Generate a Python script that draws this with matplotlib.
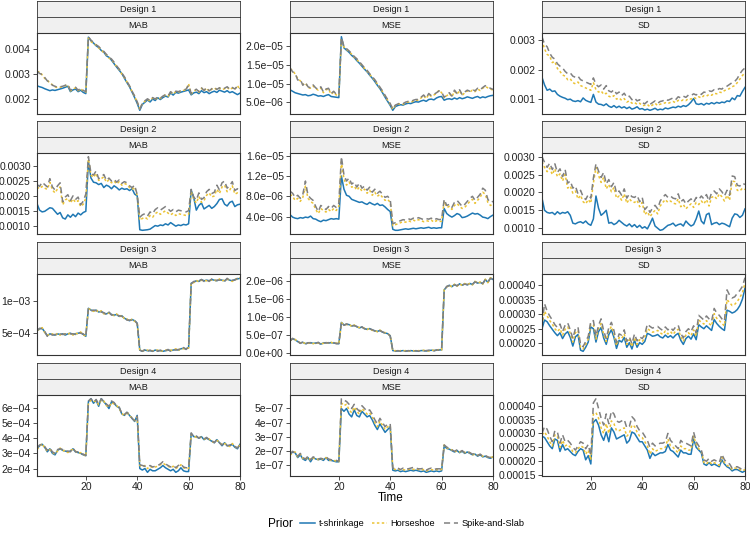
import numpy as np
import matplotlib
matplotlib.use('Agg')
import matplotlib.pyplot as plt
from matplotlib.lines import Line2D

plt.rcParams.update({
    'font.family':      ['Liberation Sans', 'DejaVu Sans'],
    'font.size':        7.5,
    'figure.facecolor': 'white',
    'axes.facecolor':   'white',
    'figure.dpi':       100,
})

# ---- data -------------------------------------------------------------
time = np.arange(1, 81)
priors = ['t-shrinkage', 'Horseshoe', 'Spike-and-Slab']
designs = ['Design 1', 'Design 2', 'Design 3', 'Design 4']
metrics = ['MAB', 'MSE', 'SD']

# Design 1 - MAB (x 1e-4)
d1_mab_t = [25.2, 24.8, 24.5, 24.0, 23.6, 23.2, 23.5, 23.3, 23.6, 23.9,
            24.2, 24.6, 25.0, 22.8, 23.5, 23.9, 22.8, 23.4, 22.5, 22.0,
            45.0, 43.5, 42.6, 41.5, 40.8, 39.6, 38.9, 37.4, 36.8, 35.6,
            34.2, 32.8, 31.5, 30.2, 28.3, 26.5, 24.8, 22.6, 20.4, 18.0,
            15.2, 17.6, 18.5, 19.4, 18.6, 19.8, 19.2, 20.3, 19.6, 20.4,
            21.0, 20.6, 22.3, 21.4, 22.5, 22.2, 22.6, 22.9, 23.2, 23.5,
            21.5, 22.3, 22.6, 22.0, 23.2, 22.4, 22.8, 22.0, 22.6, 23.0,
            22.5, 23.4, 23.0, 22.6, 23.2, 22.4, 22.8, 22.2, 21.6, 22.2]
d1_mab_h = [30.8, 31.0, 29.6, 28.2, 27.5, 26.3, 25.6, 24.8, 24.4, 24.6,
            24.8, 25.2, 25.6, 23.1, 23.8, 24.4, 23.2, 24.0, 23.0, 22.6,
            44.6, 43.2, 42.4, 41.8, 40.6, 39.9, 38.6, 37.8, 36.5, 35.9,
            34.5, 33.0, 31.8, 30.0, 28.6, 26.8, 25.0, 22.8, 20.8, 18.5,
            15.8, 17.9, 18.9, 19.6, 19.0, 20.2, 19.6, 20.5, 20.0, 20.8,
            21.4, 20.9, 22.6, 21.8, 22.8, 22.6, 23.0, 23.3, 23.6, 26.0,
            21.9, 23.0, 23.6, 22.6, 24.2, 23.1, 24.3, 22.9, 23.8, 24.4,
            23.5, 24.2, 23.6, 24.0, 24.6, 23.6, 24.3, 23.7, 25.3, 23.6]
d1_mab_s = [31.2, 30.2, 29.8, 28.6, 27.2, 26.6, 25.4, 25.0, 24.6, 24.8,
            25.0, 25.4, 25.8, 23.4, 24.0, 24.6, 23.4, 24.2, 23.3, 22.8,
            45.2, 43.8, 42.9, 41.9, 41.2, 40.1, 39.2, 38.0, 36.9, 36.1,
            34.8, 33.3, 32.0, 30.4, 28.9, 27.0, 25.2, 23.0, 21.0, 18.7,
            15.6, 18.1, 19.1, 19.9, 19.2, 20.4, 19.8, 20.7, 20.2, 21.0,
            21.6, 21.1, 22.8, 22.0, 23.0, 22.8, 23.2, 23.5, 23.8, 25.4,
            22.1, 23.2, 23.8, 22.8, 24.4, 23.3, 24.5, 23.1, 24.0, 24.6,
            23.7, 24.4, 23.8, 24.2, 24.8, 23.8, 24.5, 23.9, 25.0, 24.0]

# Design 1 - MSE (x 1e-6)
d1_mse_t = [8.4, 8.0, 7.6, 7.4, 7.2, 7.0, 7.1, 6.8, 6.9, 7.2,
            7.0, 6.7, 6.8, 6.6, 6.9, 7.1, 6.6, 6.5, 6.4, 6.3,
            22.6, 19.6, 19.0, 18.4, 17.6, 17.0, 16.2, 15.5, 14.7, 13.9,
            13.2, 12.3, 11.5, 10.6, 9.6, 8.7, 7.6, 6.4, 5.3, 4.2,
            2.9, 3.9, 4.2, 4.4, 4.3, 4.6, 4.8, 4.7, 5.0, 5.2,
            5.1, 5.4, 5.6, 5.3, 5.8, 5.9, 5.7, 6.2, 6.5, 6.6,
            5.6, 5.9, 6.0, 5.8, 6.2, 5.9, 6.3, 6.0, 6.2, 6.5,
            6.3, 6.1, 6.4, 6.6, 6.2, 6.5, 6.3, 6.6, 6.8, 6.9]
d1_mse_h = [14.0, 13.6, 12.6, 11.4, 10.8, 9.8, 10.2, 9.0, 8.8, 9.4,
            8.7, 8.3, 8.9, 7.6, 8.4, 8.6, 7.2, 7.8, 7.0, 6.8,
            22.0, 19.8, 19.2, 18.6, 17.9, 17.1, 16.5, 15.7, 14.9, 14.1,
            13.4, 12.5, 11.7, 10.9, 9.9, 8.9, 7.9, 6.7, 5.6, 4.5,
            3.2, 4.2, 4.5, 4.7, 4.5, 4.9, 5.1, 5.0, 5.4, 5.6,
            5.6, 6.2, 6.8, 6.0, 7.2, 6.6, 7.0, 7.4, 8.3, 7.6,
            6.2, 6.8, 7.4, 6.5, 8.0, 7.2, 8.2, 6.9, 7.6, 8.1,
            7.8, 8.3, 7.9, 8.6, 8.2, 8.8, 9.3, 8.9, 8.6, 8.3]
d1_mse_s = [14.3, 13.2, 12.8, 11.0, 11.2, 9.6, 10.4, 9.2, 8.9, 9.7,
            8.9, 8.5, 9.2, 7.8, 8.6, 8.8, 7.4, 8.0, 7.2, 7.0,
            22.4, 20.0, 19.4, 18.8, 18.1, 17.3, 16.7, 15.9, 15.1, 14.3,
            13.6, 12.7, 11.9, 11.1, 10.1, 9.1, 8.1, 6.9, 5.8, 4.7,
            3.3, 4.3, 4.6, 4.9, 4.7, 5.1, 5.3, 5.2, 5.6, 5.8,
            5.8, 6.4, 7.0, 6.2, 7.4, 6.8, 7.2, 7.6, 8.1, 7.8,
            6.4, 7.0, 7.6, 6.7, 8.3, 7.4, 8.4, 7.1, 7.8, 8.3,
            8.0, 8.5, 8.1, 8.8, 8.4, 9.0, 9.5, 9.1, 8.8, 8.5]

# Design 1 - SD (x 1e-4)
d1_sd_t = [17.4, 14.8, 13.0, 13.4, 12.6, 12.8, 11.6, 11.0, 10.6, 10.3,
           9.8, 10.0, 9.4, 9.2, 9.5, 9.1, 10.4, 9.6, 9.2, 8.9,
           11.6, 9.0, 8.3, 8.2, 7.8, 8.4, 7.6, 7.2, 7.8, 7.1,
           7.6, 7.0, 7.4, 6.8, 7.3, 6.6, 6.9, 7.4, 6.6, 6.8,
           6.3, 6.6, 6.2, 6.5, 6.9, 6.3, 6.6, 6.4, 7.0, 6.7,
           7.0, 7.3, 7.1, 7.6, 7.3, 7.8, 7.5, 8.1, 9.0, 10.2,
           8.4, 8.2, 8.5, 8.0, 8.6, 8.3, 8.8, 8.4, 8.9, 8.6,
           9.0, 8.8, 9.4, 9.2, 10.4, 9.8, 11.2, 11.0, 12.6, 14.0]
d1_sd_h = [30.0, 27.0, 25.2, 24.6, 22.4, 22.8, 20.4, 19.4, 18.2, 17.8,
           16.6, 16.9, 15.6, 15.2, 15.8, 14.6, 14.2, 13.8, 13.4, 13.0,
           15.6, 13.2, 12.4, 12.8, 11.6, 12.0, 11.0, 10.6, 11.2, 10.0,
           10.4, 9.6, 10.2, 9.0, 9.4, 8.6, 8.9, 8.2, 8.6, 7.8,
           7.9, 8.2, 7.4, 8.0, 8.6, 7.8, 8.3, 8.4, 8.8, 8.5,
           8.9, 9.2, 8.8, 9.6, 9.3, 9.8, 9.5, 10.2, 10.0, 10.6,
           10.2, 10.8, 10.4, 11.2, 11.0, 11.6, 11.3, 12.0, 11.8, 12.4,
           12.2, 12.9, 13.2, 13.6, 14.2, 14.6, 15.6, 16.8, 18.0, 19.0]
d1_sd_s = [31.2, 28.6, 27.8, 25.6, 24.2, 23.6, 22.0, 21.2, 20.6, 19.4,
           18.6, 18.9, 17.8, 17.4, 17.8, 16.6, 16.2, 15.8, 15.4, 15.0,
           17.2, 15.0, 14.2, 14.8, 13.4, 14.6, 12.8, 12.4, 13.2, 11.8,
           12.4, 11.2, 12.0, 10.6, 11.0, 9.8, 10.4, 9.4, 9.8, 8.8,
           8.4, 9.2, 8.2, 8.8, 9.4, 8.6, 9.2, 9.4, 10.0, 9.6,
           10.0, 10.4, 9.8, 10.8, 10.4, 11.0, 10.6, 11.4, 11.2, 11.8,
           11.4, 12.0, 11.6, 12.4, 12.2, 12.8, 12.6, 13.2, 13.0, 13.6,
           13.4, 14.2, 14.4, 15.0, 15.6, 16.0, 17.0, 18.6, 19.8, 20.6]

# Design 2 - MAB (x 1e-4)
d2_mab_t = [17.4, 15.2, 14.6, 14.8, 15.4, 16.0, 15.8, 14.8, 13.8, 14.4,
            12.6, 12.2, 13.6, 12.8, 13.8, 13.0, 14.2, 13.6, 14.4, 14.8,
            31.6, 26.0, 24.6, 24.4, 23.8, 24.2, 22.8, 23.6, 23.2, 22.4,
            23.4, 22.8, 22.0, 22.6, 22.2, 22.4, 21.8, 22.4, 20.6, 20.0,
            8.6, 8.4, 8.5, 8.6, 8.8, 9.4, 10.0, 9.8, 10.2, 10.0,
            10.6, 10.2, 11.0, 10.4, 9.8, 10.2, 10.0, 10.4, 10.2, 10.6,
            22.0, 19.4, 15.2, 16.8, 17.6, 15.6, 16.2, 16.8, 15.8, 16.4,
            17.4, 18.8, 19.0, 17.2, 16.6, 17.8, 18.2, 16.4, 17.0, 17.2]
d2_mab_h = [23.0, 22.4, 23.2, 22.6, 22.2, 24.6, 22.0, 21.0, 22.4, 23.0,
            17.0, 18.6, 19.2, 17.6, 19.0, 17.8, 18.4, 16.4, 17.2, 19.2,
            32.4, 27.0, 26.2, 27.6, 25.2, 25.8, 26.4, 24.6, 25.4, 24.4,
            25.0, 24.0, 24.8, 23.6, 24.2, 23.8, 22.8, 22.2, 23.0, 20.0,
            11.8, 12.4, 12.8, 12.2, 13.4, 12.8, 14.0, 14.6, 13.8, 14.4,
            15.0, 14.2, 13.6, 14.2, 13.4, 14.0, 13.8, 13.6, 13.4, 13.8,
            21.6, 18.8, 17.6, 19.8, 17.8, 18.4, 20.2, 21.0, 19.6, 20.0,
            22.2, 20.8, 23.0, 23.6, 21.4, 22.0, 23.4, 20.6, 21.0, 20.6]
d2_mab_s = [23.8, 23.2, 24.6, 23.8, 23.0, 25.8, 23.0, 22.0, 23.4, 24.4,
            18.0, 19.6, 20.4, 18.4, 20.0, 18.8, 19.6, 17.0, 18.2, 20.6,
            33.2, 27.6, 27.0, 28.4, 25.8, 26.4, 27.2, 25.2, 26.0, 25.0,
            25.6, 24.6, 25.4, 24.2, 24.8, 24.4, 23.4, 22.8, 23.6, 20.4,
            12.8, 13.6, 14.0, 13.2, 14.6, 14.0, 15.4, 16.0, 15.2, 15.8,
            16.4, 15.6, 14.8, 15.4, 14.6, 15.2, 15.0, 14.8, 14.6, 15.0,
            22.2, 19.6, 18.6, 21.0, 18.8, 19.4, 21.4, 22.2, 20.8, 21.2,
            23.6, 22.0, 24.4, 25.0, 22.6, 23.4, 24.8, 21.8, 22.4, 21.6]

# Design 2 - MSE (x 1e-6)
d2_mse_t = [4.4, 3.9, 3.7, 3.6, 3.8, 3.7, 3.9, 3.8, 4.1, 3.6,
            3.5, 3.2, 3.0, 3.3, 3.2, 3.4, 3.6, 3.5, 3.6, 3.5,
            12.0, 9.4, 8.2, 8.0, 7.4, 7.2, 7.0, 6.8, 6.9, 6.6,
            6.4, 6.8, 6.5, 6.3, 6.6, 6.2, 6.3, 5.9, 5.4, 5.0,
            1.5, 1.3, 1.3, 1.4, 1.5, 1.6, 1.5, 1.6, 1.7, 1.6,
            1.7, 1.8, 1.7, 1.8, 1.9, 1.7, 1.8, 1.7, 1.8, 1.8,
            5.6, 4.6, 4.2, 3.9, 4.2, 4.6, 4.4, 3.8, 3.9, 4.1,
            4.4, 4.7, 4.5, 4.6, 4.3, 3.9, 3.8, 3.6, 4.0, 4.3]
d2_mse_h = [8.4, 8.0, 7.2, 7.6, 7.0, 7.8, 10.0, 7.6, 7.0, 6.6,
            5.4, 4.6, 5.6, 5.2, 4.9, 5.4, 5.0, 5.6, 5.2, 6.0,
            14.8, 11.4, 10.2, 10.8, 9.8, 10.0, 9.2, 9.8, 9.0, 9.4,
            8.6, 9.2, 8.2, 8.8, 8.0, 8.4, 7.8, 7.2, 7.4, 6.8,
            2.2, 2.4, 2.6, 2.8, 3.0, 2.9, 3.2, 3.0, 3.3, 3.1,
            3.4, 3.2, 3.0, 3.2, 3.1, 3.3, 2.9, 3.2, 3.0, 3.1,
            7.0, 5.8, 6.0, 5.4, 6.2, 6.6, 6.0, 5.6, 5.8, 6.4,
            7.0, 7.4, 6.6, 7.2, 7.8, 8.8, 8.4, 6.8, 6.2, 6.4]
d2_mse_s = [9.0, 8.6, 7.8, 8.2, 7.6, 8.4, 11.0, 8.2, 7.6, 7.2,
            6.0, 5.0, 6.2, 5.8, 5.4, 6.0, 5.6, 6.2, 5.8, 6.6,
            15.8, 12.2, 11.0, 11.6, 10.4, 10.8, 9.8, 10.6, 9.6, 10.0,
            9.2, 9.8, 8.8, 9.4, 8.6, 9.0, 8.4, 7.8, 8.0, 7.4,
            2.6, 2.8, 3.0, 3.2, 3.4, 3.3, 3.6, 3.4, 3.7, 3.5,
            3.8, 3.6, 3.4, 3.6, 3.5, 3.7, 3.3, 3.6, 3.4, 3.5,
            7.4, 6.2, 6.4, 5.8, 6.8, 7.2, 6.6, 6.0, 6.4, 7.0,
            7.6, 8.0, 7.2, 7.8, 8.4, 9.6, 9.2, 7.4, 6.8, 7.0]

# Design 2 - SD (x 1e-4)
d2_sd_t = [18.4, 15.0, 14.4, 14.2, 14.4, 13.8, 14.6, 14.0, 14.4, 14.2,
           14.6, 13.6, 11.4, 11.2, 11.6, 11.8, 11.4, 12.0, 11.2, 10.8,
           12.6, 19.0, 15.6, 13.6, 14.2, 15.0, 11.4, 11.6, 11.0, 11.4,
           12.2, 11.6, 11.0, 10.6, 11.2, 10.4, 11.0, 10.2, 10.8, 10.0,
           10.4, 9.8, 11.2, 12.8, 10.6, 10.0, 9.4, 9.6, 10.2, 10.8,
           11.0, 11.4, 10.6, 11.0, 11.2, 10.6, 12.0, 11.2, 10.6, 11.0,
           12.6, 14.8, 12.0, 11.2, 13.8, 14.2, 11.0, 11.4, 11.6, 11.0,
           11.4, 11.2, 10.8, 10.4, 12.8, 14.0, 13.8, 13.0, 13.6, 15.4]
d2_sd_h = [28.6, 27.0, 25.8, 26.8, 25.0, 26.6, 24.4, 25.2, 23.2, 25.0,
           21.2, 21.8, 19.8, 20.4, 18.2, 19.2, 17.4, 16.8, 18.0, 17.0,
           22.6, 27.0, 24.8, 22.8, 24.2, 21.0, 22.2, 20.2, 21.4, 18.4,
           19.0, 17.8, 19.6, 17.0, 18.2, 17.4, 17.2, 17.8, 16.0, 17.2,
           13.8, 14.6, 13.2, 14.2, 15.0, 14.0, 16.2, 17.2, 18.0, 17.2,
           17.6, 17.0, 16.8, 18.2, 16.0, 16.6, 15.4, 16.2, 16.8, 15.8,
           17.2, 16.6, 17.6, 16.8, 18.0, 16.2, 18.6, 19.0, 18.2, 19.6,
           18.8, 17.6, 19.2, 17.8, 23.2, 23.0, 20.6, 20.4, 21.2, 20.8]
d2_sd_s = [30.0, 28.4, 27.0, 28.2, 26.4, 28.0, 25.6, 26.6, 24.4, 26.4,
           22.6, 23.2, 21.2, 21.8, 19.6, 20.6, 18.8, 18.0, 19.4, 18.4,
           24.0, 28.0, 26.0, 24.2, 25.6, 22.4, 23.6, 21.6, 22.8, 19.8,
           20.4, 19.2, 21.0, 18.4, 19.6, 18.8, 18.6, 19.2, 17.4, 18.6,
           15.2, 16.0, 14.4, 15.6, 16.4, 15.4, 17.6, 18.6, 19.4, 18.6,
           19.0, 18.4, 18.2, 19.6, 17.4, 18.0, 16.8, 17.6, 18.2, 17.2,
           18.6, 18.0, 19.0, 18.2, 19.4, 17.6, 20.0, 20.4, 19.6, 21.0,
           20.2, 19.0, 20.6, 19.2, 24.6, 24.4, 22.0, 21.8, 22.6, 22.2]

# Design 3 - MAB (x 1e-4)
d3_mab_t = [5.3, 5.6, 5.7, 5.1, 4.5, 4.8, 4.7, 4.6, 4.8, 4.7,
            4.8, 4.6, 4.8, 4.9, 4.7, 4.8, 4.9, 5.0, 4.7, 4.4,
            8.9, 8.6, 8.5, 8.6, 8.3, 8.4, 8.1, 8.0, 8.2, 7.9,
            7.8, 7.9, 7.6, 7.7, 7.3, 7.1, 6.9, 7.1, 6.9, 6.5,
            2.2, 2.0, 2.2, 2.1, 2.1, 2.0, 2.2, 2.1, 2.1, 2.0,
            2.1, 2.2, 2.1, 2.2, 2.3, 2.2, 2.4, 2.5, 2.4, 2.6,
            12.9, 13.1, 13.3, 13.2, 13.5, 13.3, 13.4, 13.3, 13.5, 13.4,
            13.3, 13.5, 13.4, 13.3, 13.6, 13.4, 13.3, 13.5, 13.6, 13.7]
d3_mab_h = [5.4, 5.5, 5.8, 5.0, 4.6, 4.7, 4.8, 4.5, 4.9, 4.6,
            4.9, 4.7, 4.7, 5.0, 4.6, 4.9, 4.8, 5.1, 4.6, 4.5,
            8.8, 8.7, 8.4, 8.7, 8.2, 8.5, 8.0, 8.1, 8.1, 8.0,
            7.7, 8.0, 7.5, 7.8, 7.2, 7.2, 6.8, 7.2, 6.8, 6.6,
            2.1, 2.1, 2.1, 2.2, 2.0, 2.1, 2.1, 2.2, 2.0, 2.1,
            2.2, 2.1, 2.2, 2.1, 2.4, 2.1, 2.5, 2.4, 2.5, 2.5,
            13.0, 13.0, 13.4, 13.1, 13.4, 13.4, 13.3, 13.4, 13.4, 13.5,
            13.2, 13.6, 13.3, 13.4, 13.5, 13.5, 13.2, 13.6, 13.5, 13.8]
d3_mab_s = [5.3, 5.7, 5.6, 5.2, 4.4, 4.8, 4.6, 4.7, 4.7, 4.8,
            4.7, 4.8, 4.7, 4.8, 4.8, 4.7, 5.0, 4.9, 4.8, 4.4,
            8.9, 8.5, 8.6, 8.5, 8.4, 8.3, 8.2, 7.9, 8.3, 7.8,
            7.9, 7.8, 7.7, 7.6, 7.4, 7.0, 7.0, 7.0, 7.0, 6.4,
            2.2, 2.0, 2.3, 2.0, 2.2, 2.0, 2.3, 2.0, 2.2, 2.0,
            2.1, 2.3, 2.0, 2.3, 2.2, 2.3, 2.3, 2.6, 2.3, 2.7,
            12.8, 13.2, 13.2, 13.3, 13.5, 13.2, 13.5, 13.2, 13.6, 13.3,
            13.4, 13.4, 13.5, 13.2, 13.7, 13.3, 13.4, 13.4, 13.7, 13.6]

# Design 3 - MSE (x 1e-7)
d3_mse_t = [3.4, 4.0, 3.7, 3.2, 2.8, 3.0, 2.6, 2.8, 2.9, 2.7,
            2.8, 2.9, 2.5, 2.8, 2.9, 2.8, 2.9, 2.8, 2.7, 2.6,
            8.5, 7.8, 8.0, 7.9, 7.5, 7.7, 7.3, 7.0, 7.2, 6.8,
            6.6, 6.8, 6.4, 6.2, 6.0, 6.3, 5.8, 5.6, 5.4, 4.8,
            0.7, 0.6, 0.6, 0.6, 0.7, 0.6, 0.6, 0.7, 0.6, 0.6,
            0.6, 0.7, 0.7, 0.6, 0.7, 0.8, 0.7, 0.8, 0.9, 0.9,
            17.5, 18.4, 18.8, 18.4, 19.0, 18.6, 19.2, 18.8, 19.2, 18.9,
            19.3, 19.0, 19.8, 19.4, 19.6, 19.2, 20.4, 19.6, 20.8, 20.4]
d3_mse_h = [3.5, 3.9, 3.8, 3.1, 2.9, 2.9, 2.7, 2.7, 3.0, 2.6,
            2.9, 2.8, 2.6, 2.7, 3.0, 2.7, 3.0, 2.7, 2.8, 2.5,
            8.4, 7.9, 7.9, 8.0, 7.4, 7.8, 7.2, 7.1, 7.1, 6.9,
            6.5, 6.9, 6.3, 6.3, 5.9, 6.4, 5.7, 5.7, 5.3, 4.9,
            0.6, 0.7, 0.5, 0.7, 0.6, 0.7, 0.5, 0.7, 0.7, 0.5,
            0.7, 0.6, 0.8, 0.6, 0.6, 0.8, 0.8, 0.7, 1.0, 0.8,
            17.6, 18.3, 18.9, 18.3, 19.1, 18.5, 19.3, 18.7, 19.3, 18.8,
            19.4, 18.9, 19.9, 19.3, 19.7, 19.1, 20.5, 19.5, 20.9, 20.3]
d3_mse_s = [3.3, 4.1, 3.6, 3.3, 2.7, 3.1, 2.5, 2.9, 2.8, 2.8,
            2.7, 3.0, 2.4, 2.9, 2.8, 2.9, 2.8, 2.9, 2.6, 2.7,
            8.6, 7.7, 8.1, 7.8, 7.6, 7.6, 7.4, 6.9, 7.3, 6.7,
            6.7, 6.7, 6.5, 6.1, 6.1, 6.2, 5.9, 5.5, 5.5, 4.7,
            0.8, 0.5, 0.7, 0.5, 0.8, 0.5, 0.7, 0.6, 0.5, 0.7,
            0.5, 0.8, 0.6, 0.7, 0.8, 0.7, 0.6, 0.9, 0.8, 1.0,
            17.4, 18.5, 18.7, 18.5, 18.9, 18.7, 19.1, 18.9, 19.1, 19.0,
            19.2, 19.1, 19.7, 19.5, 19.5, 19.3, 20.3, 19.7, 20.7, 20.5]

# Design 3 - SD (x 1e-5)
d3_sd_t = [25.0, 28.0, 27.4, 26.0, 24.8, 23.6, 22.6, 23.6, 21.6, 23.2,
           24.0, 22.0, 19.0, 22.2, 23.0, 17.6, 17.2, 18.6, 20.4, 25.6,
           25.0, 20.4, 24.0, 25.4, 21.8, 19.6, 23.0, 24.6, 22.0, 18.2,
           21.0, 20.4, 22.0, 18.6, 20.2, 18.0, 21.0, 18.6, 20.2, 19.6,
           20.6, 23.4, 23.0, 22.4, 22.6, 23.0, 22.2, 21.8, 22.8, 22.0,
           22.6, 21.8, 22.8, 23.4, 21.0, 19.6, 21.6, 22.4, 21.4, 23.2,
           21.2, 26.4, 25.6, 25.0, 26.0, 25.2, 24.4, 28.2, 26.8, 25.8,
           25.0, 24.4, 31.4, 31.0, 30.4, 30.8, 31.6, 33.0, 35.2, 39.0]
d3_sd_h = [26.2, 31.0, 29.4, 27.8, 26.6, 25.0, 24.0, 25.0, 22.8, 24.8,
           25.6, 23.4, 20.4, 23.6, 24.4, 18.6, 18.0, 19.6, 21.4, 26.6,
           26.4, 21.4, 25.0, 26.8, 23.0, 20.6, 24.2, 25.8, 23.2, 19.2,
           22.0, 21.6, 23.2, 19.6, 21.2, 18.8, 22.0, 19.6, 21.2, 20.6,
           21.8, 25.0, 24.4, 23.8, 24.0, 24.4, 23.6, 23.0, 24.2, 23.2,
           24.0, 23.0, 24.2, 24.8, 22.2, 20.6, 22.8, 23.6, 22.6, 24.6,
           22.4, 28.0, 27.2, 26.6, 27.8, 26.8, 26.0, 30.2, 28.6, 27.8,
           26.8, 26.0, 35.0, 34.0, 33.0, 33.4, 34.4, 35.8, 37.4, 40.8]
d3_sd_s = [27.0, 33.6, 31.0, 29.4, 28.0, 26.4, 25.4, 26.6, 24.0, 26.2,
           27.0, 24.6, 21.6, 25.0, 25.6, 19.4, 18.8, 20.6, 22.4, 27.6,
           27.8, 22.4, 26.2, 28.4, 24.2, 21.6, 25.4, 27.2, 24.4, 20.2,
           23.2, 22.8, 24.6, 20.6, 22.2, 19.8, 23.2, 20.8, 22.2, 21.6,
           23.0, 26.6, 25.8, 25.2, 25.6, 25.8, 25.0, 24.4, 25.6, 24.6,
           25.4, 24.4, 25.6, 26.2, 23.4, 21.8, 24.0, 25.0, 24.0, 26.0,
           23.6, 29.6, 28.8, 28.0, 29.4, 28.4, 27.6, 32.0, 30.4, 29.6,
           28.4, 27.6, 38.4, 36.6, 35.6, 36.0, 37.2, 38.2, 39.6, 42.6]

# Design 4 - MAB (x 1e-4)
d4_mab_t = [3.3, 3.5, 3.6, 3.4, 3.1, 3.3, 3.0, 2.9, 3.2, 3.3,
            3.2, 3.15, 3.1, 3.15, 3.3, 3.1, 3.05, 3.0, 2.9, 2.85,
            6.4, 6.6, 6.3, 6.5, 6.1, 6.6, 6.4, 6.2, 5.95, 6.4,
            6.3, 6.1, 6.0, 5.6, 5.5, 5.7, 5.5, 5.3, 5.1, 5.5,
            2.0, 1.9, 2.0, 1.75, 1.95, 1.85, 1.85, 1.95, 2.05, 2.2,
            2.05, 1.95, 1.85, 1.95, 1.75, 1.85, 2.05, 1.85, 1.8, 1.8,
            4.3, 4.1, 4.1, 4.0, 4.1, 3.9, 4.0, 3.9, 3.8, 3.7,
            3.9, 3.7, 3.5, 3.7, 3.5, 3.5, 3.6, 3.4, 3.3, 3.6]
d4_mab_h = [3.25, 3.45, 3.65, 3.35, 3.15, 3.25, 3.05, 2.95, 3.15, 3.35,
            3.15, 3.2, 3.05, 3.2, 3.25, 3.15, 3.0, 3.05, 2.95, 2.8,
            6.3, 6.5, 6.4, 6.45, 6.2, 6.5, 6.45, 6.15, 6.05, 6.35,
            6.25, 6.15, 5.95, 5.65, 5.45, 5.75, 5.45, 5.35, 5.15, 5.4,
            2.2, 2.1, 2.2, 2.0, 2.15, 2.05, 2.1, 2.15, 2.25, 2.35,
            2.25, 2.15, 2.05, 2.15, 2.0, 2.1, 2.25, 2.05, 2.0, 2.0,
            4.25, 4.15, 4.05, 4.05, 4.05, 3.95, 3.95, 3.95, 3.75, 3.75,
            3.85, 3.75, 3.55, 3.65, 3.55, 3.45, 3.65, 3.45, 3.35, 3.55]
d4_mab_s = [3.35, 3.55, 3.6, 3.45, 3.2, 3.35, 3.1, 3.0, 3.25, 3.3,
            3.25, 3.15, 3.15, 3.1, 3.35, 3.1, 3.1, 2.95, 2.95, 2.85,
            6.45, 6.6, 6.35, 6.55, 6.25, 6.6, 6.4, 6.25, 6.1, 6.45,
            6.35, 6.1, 6.05, 5.6, 5.55, 5.7, 5.55, 5.3, 5.15, 5.45,
            2.25, 2.2, 2.15, 2.1, 2.2, 2.1, 2.15, 2.2, 2.3, 2.45,
            2.3, 2.2, 2.1, 2.2, 2.05, 2.2, 2.3, 2.1, 2.05, 2.05,
            4.35, 4.1, 4.15, 4.0, 4.1, 3.95, 4.05, 3.9, 3.85, 3.7,
            3.9, 3.7, 3.55, 3.7, 3.5, 3.55, 3.6, 3.45, 3.35, 3.6]

# Design 4 - MSE (x 1e-7)
d4_mse_t = [1.7, 1.9, 1.85, 1.5, 1.7, 1.4, 1.3, 1.5, 1.2, 1.5,
            1.4, 1.35, 1.4, 1.3, 1.5, 1.3, 1.3, 1.25, 1.2, 1.2,
            5.0, 4.8, 5.0, 4.6, 4.4, 4.9, 4.5, 4.4, 4.8, 4.6,
            4.4, 4.5, 4.2, 3.8, 3.5, 3.9, 3.6, 3.3, 3.5, 3.7,
            0.6, 0.55, 0.6, 0.5, 0.55, 0.5, 0.55, 0.6, 0.55, 0.6,
            0.55, 0.5, 0.55, 0.45, 0.5, 0.55, 0.5, 0.55, 0.5, 0.55,
            2.35, 2.15, 2.1, 2.0, 1.9, 2.0, 1.85, 1.95, 1.8, 1.9,
            1.8, 1.7, 1.75, 1.6, 1.7, 1.55, 1.6, 1.5, 1.45, 1.55]
d4_mse_h = [1.65, 1.85, 1.9, 1.55, 1.75, 1.45, 1.35, 1.55, 1.3, 1.45,
            1.45, 1.35, 1.45, 1.35, 1.5, 1.35, 1.3, 1.3, 1.25, 1.2,
            5.4, 5.2, 5.3, 4.9, 4.7, 5.1, 4.8, 4.6, 5.0, 4.8,
            4.6, 4.7, 4.4, 4.0, 3.7, 4.1, 3.8, 3.5, 3.7, 3.8,
            0.7, 0.65, 0.7, 0.6, 0.65, 0.6, 0.65, 0.7, 0.65, 0.7,
            0.65, 0.6, 0.65, 0.55, 0.6, 0.65, 0.6, 0.65, 0.6, 0.65,
            2.4, 2.2, 2.1, 2.05, 1.9, 2.0, 1.9, 1.95, 1.85, 1.9,
            1.85, 1.7, 1.75, 1.65, 1.7, 1.6, 1.6, 1.55, 1.5, 1.55]
d4_mse_s = [1.75, 1.95, 1.8, 1.6, 1.8, 1.5, 1.4, 1.6, 1.35, 1.55,
            1.5, 1.4, 1.45, 1.4, 1.55, 1.4, 1.35, 1.3, 1.3, 1.25,
            5.7, 5.6, 5.5, 5.3, 5.0, 5.3, 5.0, 4.8, 5.2, 5.0,
            4.8, 4.9, 4.6, 4.2, 3.9, 4.3, 4.0, 3.7, 3.9, 3.9,
            0.75, 0.7, 0.75, 0.65, 0.75, 0.7, 0.7, 0.75, 0.8, 0.75,
            0.7, 0.7, 0.75, 0.6, 0.7, 0.75, 0.65, 0.7, 0.7, 0.7,
            2.4, 2.25, 2.15, 2.05, 1.95, 2.05, 1.9, 2.0, 1.85, 1.95,
            1.85, 1.75, 1.8, 1.65, 1.75, 1.6, 1.65, 1.55, 1.5, 1.6]

# Design 4 - SD (x 1e-5)
d4_sd_t = [29.0, 28.5, 27.0, 25.5, 24.5, 28.0, 27.5, 23.5, 26.0, 24.0,
           24.5, 23.5, 22.5, 22.0, 23.5, 24.5, 24.0, 20.5, 22.0, 19.0,
           34.0, 35.0, 33.0, 29.5, 27.5, 30.5, 27.0, 32.0, 30.5, 28.0,
           28.5, 29.0, 29.5, 26.5, 27.5, 30.5, 30.0, 28.5, 27.0, 27.0,
           25.5, 24.0, 21.0, 23.0, 22.0, 22.5, 23.0, 23.0, 23.5, 26.0,
           24.0, 23.5, 22.5, 21.5, 24.0, 23.0, 23.0, 22.5, 22.5, 28.0,
           25.0, 24.0, 23.0, 19.0, 18.5, 19.5, 18.5, 19.0, 18.5, 18.0,
           20.5, 19.0, 18.0, 17.5, 16.5, 17.0, 17.0, 16.5, 16.0, 16.5]
d4_sd_h = [29.5, 30.5, 29.0, 27.0, 25.5, 29.5, 29.0, 25.0, 27.5, 25.5,
           26.0, 25.0, 23.5, 23.0, 24.5, 25.5, 25.0, 22.5, 24.0, 20.5,
           37.0, 37.5, 35.5, 32.0, 30.0, 33.5, 30.0, 34.5, 33.5, 31.0,
           31.0, 31.5, 32.0, 29.0, 30.0, 33.0, 32.5, 30.5, 29.0, 28.5,
           27.0, 25.5, 22.5, 24.5, 23.5, 24.0, 24.5, 24.5, 25.0, 28.0,
           25.5, 25.0, 24.0, 23.0, 25.5, 24.5, 24.5, 24.0, 24.0, 29.0,
           26.0, 24.5, 23.5, 19.5, 19.0, 20.0, 19.0, 19.5, 19.0, 18.5,
           21.5, 19.5, 18.5, 18.0, 17.0, 17.5, 17.5, 17.0, 16.5, 17.0]
d4_sd_s = [30.0, 32.5, 31.5, 29.0, 27.0, 31.0, 30.5, 26.5, 29.5, 27.0,
           27.5, 26.5, 25.0, 24.0, 25.5, 27.0, 26.5, 24.5, 26.0, 22.0,
           41.0, 42.5, 39.0, 35.5, 33.0, 37.0, 33.5, 38.0, 37.0, 34.5,
           34.0, 34.5, 35.0, 32.0, 32.5, 36.0, 35.0, 32.5, 31.0, 30.5,
           29.0, 27.5, 25.0, 26.5, 25.5, 26.0, 26.5, 26.5, 27.0, 30.0,
           27.5, 26.5, 25.5, 24.5, 27.5, 26.5, 26.5, 26.0, 25.5, 30.5,
           27.0, 25.5, 24.0, 20.5, 20.0, 21.0, 20.0, 20.5, 20.0, 19.5,
           22.5, 20.5, 19.5, 19.0, 17.5, 18.0, 18.0, 17.5, 17.0, 17.5]

# units each panel's lists are written in
units = [[1e-4, 1e-6, 1e-4],
         [1e-4, 1e-6, 1e-4],
         [1e-4, 1e-7, 1e-5],
         [1e-4, 1e-7, 1e-5]]

series = [
    [[d1_mab_t, d1_mab_h, d1_mab_s], [d1_mse_t, d1_mse_h, d1_mse_s], [d1_sd_t, d1_sd_h, d1_sd_s]],
    [[d2_mab_t, d2_mab_h, d2_mab_s], [d2_mse_t, d2_mse_h, d2_mse_s], [d2_sd_t, d2_sd_h, d2_sd_s]],
    [[d3_mab_t, d3_mab_h, d3_mab_s], [d3_mse_t, d3_mse_h, d3_mse_s], [d3_sd_t, d3_sd_h, d3_sd_s]],
    [[d4_mab_t, d4_mab_h, d4_mab_s], [d4_mse_t, d4_mse_h, d4_mse_s], [d4_sd_t, d4_sd_h, d4_sd_s]],
]

yticks = [
    [([0.002, 0.003, 0.004], ['0.002', '0.003', '0.004']),
     ([5e-6, 1e-5, 1.5e-5, 2e-5], ['5.0e\u221206', '1.0e\u221205', '1.5e\u221205', '2.0e\u221205']),
     ([0.001, 0.002, 0.003], ['0.001', '0.002', '0.003'])],
    [([0.0010, 0.0015, 0.0020, 0.0025, 0.0030], ['0.0010', '0.0015', '0.0020', '0.0025', '0.0030']),
     ([4e-6, 8e-6, 1.2e-5, 1.6e-5], ['4.0e\u221206', '8.0e\u221206', '1.2e\u221205', '1.6e\u221205']),
     ([0.0010, 0.0015, 0.0020, 0.0025, 0.0030], ['0.0010', '0.0015', '0.0020', '0.0025', '0.0030'])],
    [([5e-4, 1e-3], ['5e\u221204', '1e\u221203']),
     ([0, 5e-7, 1e-6, 1.5e-6, 2e-6], ['0.0e+00', '5.0e\u221207', '1.0e\u221206', '1.5e\u221206', '2.0e\u221206']),
     ([0.0002, 0.00025, 0.0003, 0.00035, 0.0004], ['0.00020', '0.00025', '0.00030', '0.00035', '0.00040'])],
    [([2e-4, 3e-4, 4e-4, 5e-4, 6e-4], ['2e\u221204', '3e\u221204', '4e\u221204', '5e\u221204', '6e\u221204']),
     ([1e-7, 2e-7, 3e-7, 4e-7, 5e-7], ['1e\u221207', '2e\u221207', '3e\u221207', '4e\u221207', '5e\u221207']),
     ([0.00015, 0.0002, 0.00025, 0.0003, 0.00035, 0.0004], ['0.00015', '0.00020', '0.00025', '0.00030', '0.00035', '0.00040'])],
]
xticks = [20, 40, 60, 80]

# ---- style ------------------------------------------------------------
colors = ['#1F78B4', '#EBC335', '#808080']
styles = ['-', (0, (1.6, 1.6)), (0, (4, 2.5))]
DARK = '#333333'

W, H = 750, 539
col_x = [37, 290, 542]
row_top = [33, 153, 274, 395]
PW, PH, SH = 203, 81, 16


def rect(x, y, w, h):
    return [x / W, 1 - (y + h) / H, w / W, h / H]


fig = plt.figure(figsize=(W / 100, H / 100), dpi=100)

for r in range(4):
    for c in range(3):
        x0, y0 = col_x[c], row_top[r]
        # two strip rows
        for k, lab in enumerate([designs[r], metrics[c]]):
            sax = fig.add_axes(rect(x0, y0 - 2 * SH + k * SH, PW, SH))
            sax.set_facecolor('#F0F0F0')
            sax.set_xticks([])
            sax.set_yticks([])
            for sp in sax.spines.values():
                sp.set_color(DARK)
                sp.set_linewidth(0.6)
            sax.text(0.5, 0.5, lab, ha='center', va='center',
                     fontsize=6.6, color='#1A1A1A', transform=sax.transAxes)

        ax = fig.add_axes(rect(x0, y0, PW, PH))
        for i in range(3):
            ax.plot(time, np.array(series[r][c][i]) * units[r][c],
                    color=colors[i], linestyle=styles[i], linewidth=1.1)
        ax.set_xlim(1, 80)
        ax.margins(y=0.05)
        tv, tl = yticks[r][c]
        ax.set_yticks(tv)
        ax.set_yticklabels(tl)
        if r == 3:
            ax.set_xticks(xticks)
        else:
            ax.set_xticks([])
        ax.tick_params(direction='out', length=3, width=0.6, color=DARK,
                       labelsize=7.5, labelcolor='#222222', pad=1.5)
        for sp in ax.spines.values():
            sp.set_color(DARK)
            sp.set_linewidth(0.8)

fig.text(391 / W, 1 - 498 / H, 'Time', ha='center', va='center', fontsize=8.5)

handles = [Line2D([], [], color=colors[i], linestyle=styles[i], linewidth=1.1)
           for i in range(3)]
fig.text(268 / W, 1 - 524 / H, 'Prior', ha='left', va='center', fontsize=8.5)
fig.legend(handles, priors, loc='center left', bbox_to_anchor=(300 / W, 1 - 524 / H),
           ncol=3, frameon=False, fontsize=6.6, handlelength=1.6,
           handletextpad=0.4, columnspacing=0.9, borderaxespad=0, borderpad=0)

fig.savefig('out.png', dpi=100)
